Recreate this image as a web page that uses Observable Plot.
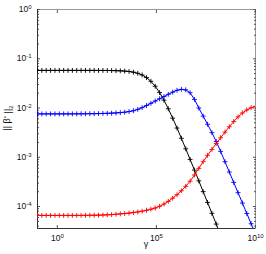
<!DOCTYPE html>
<html><head><meta charset="utf-8">
<script src="https://cdn.jsdelivr.net/npm/d3@7"></script>
<script src="https://cdn.jsdelivr.net/npm/@observablehq/plot@0.6"></script>
<style>
html,body{margin:0;padding:0;background:#fff;}
#chart svg{display:block;}
</style></head><body><div id="chart"></div>
<script>
// log10(gamma) grid of the sampled points
const logGamma = [-1.00,-0.78,-0.56,-0.34,-0.12,0.10,0.32,0.54,0.76,0.98,1.20,1.42,1.64,1.86,2.08,2.30,2.52,2.74,2.96,3.18,3.40,3.62,3.84,4.06,4.28,4.50,4.72,4.94,5.16,5.38,5.60,5.82,6.04,6.26,6.48,6.70,6.92,7.14,7.36,7.58,7.80,8.02,8.24,8.46,8.68,8.90,9.12,9.34,9.56,9.78,10.00];

const normBlack = [0.0580,0.0580,0.0580,0.0580,0.0580,0.0580,0.0580,0.0580,0.0580,0.0580,0.0580,0.0580,0.0580,0.0580,0.0579,0.0579,0.0578,0.0576,0.0573,0.0569,0.0562,0.0551,0.0534,0.0507,0.0468,0.0415,0.0349,0.0277,0.0206,0.01443,0.00965,0.00622,0.00392,0.00243,0.001487,0.000905,0.000549,0.000332,0.0002004,0.0001209,0.0000729,0.0000440,0.0000265];

const normBlue = [0.00760,0.00760,0.00760,0.00760,0.00760,0.00760,0.00760,0.00760,0.00761,0.00761,0.00762,0.00764,0.00766,0.00767,0.00771,0.00775,0.00780,0.00787,0.00796,0.00807,0.00822,0.00847,0.00881,0.00938,0.01019,0.01122,0.01245,0.01387,0.01542,0.01706,0.01897,0.02099,0.02291,0.02388,0.02334,0.02042,0.01496,0.01000,0.00684,0.00468,0.00316,0.00209,0.00132,0.000813,0.000501,0.000309,0.000191,0.0001175,0.0000724,0.0000447,0.0000275];

const normRed = [6.60e-5,6.60e-5,6.60e-5,6.60e-5,6.60e-5,6.60e-5,6.60e-5,6.60e-5,6.60e-5,6.60e-5,6.61e-5,6.62e-5,6.64e-5,6.66e-5,6.68e-5,6.73e-5,6.79e-5,6.87e-5,6.97e-5,7.08e-5,7.21e-5,7.36e-5,7.55e-5,7.76e-5,8.04e-5,8.38e-5,8.81e-5,9.33e-5,1.012e-4,1.122e-4,1.274e-4,1.479e-4,1.738e-4,2.089e-4,2.570e-4,3.273e-4,4.365e-4,5.957e-4,8.128e-4,1.0965e-3,1.445e-3,1.906e-3,2.483e-3,3.236e-3,4.169e-3,5.309e-3,6.607e-3,7.943e-3,9.120e-3,1.0116e-2,1.0839e-2];

const seriesNames = ["black", "blue", "red"];
const seriesColors = ["#000000", "#0000ff", "#ff0000"];
const yTickExponents = [0, -1, -2, -3, -4];
const xTickExponents = [0, 5, 10];
const xDomain = [1e-1, 1e10];
const yDomain = [3.58e-5, 1];
const xLabelText = "γ";

const seriesValues = [normBlack, normBlue, normRed];
const rows = [];
seriesNames.forEach((name, s) => {
  seriesValues[s].forEach((v, i) => rows.push({series: name, gamma: Math.pow(10, logGamma[i]), value: v}));
});

const yMajor = yTickExponents.map(e => Math.pow(10, e));
const xMajor = xTickExponents.map(e => Math.pow(10, e));
const yMinor = [];
for (let k = -5; k <= -1; k++) for (let m = 2; m <= 9; m++) {
  const v = m * Math.pow(10, k);
  if (v >= yDomain[0] && v <= yDomain[1]) yMinor.push(v);
}
const fmtPow = d => "10^" + Math.round(Math.log10(d));
const blank = () => "";
const tickColor = "#555";

const plot = Plot.plot({
  width: 266, height: 254,
  marginLeft: 37, marginRight: 11, marginTop: 9, marginBottom: 26,
  style: {fontFamily: "'Liberation Sans', Arial, sans-serif", fontSize: "8.5px", color: "#111", background: "#fff"},
  x: {type: "log", domain: xDomain, label: null},
  y: {type: "log", domain: yDomain, label: null},
  color: {domain: seriesNames, range: seriesColors},
  marks: [
    Plot.frame({stroke: "#999"}),
    Plot.axisY(yMajor, {anchor: "left", tickSize: 0, tickPadding: 6, tickFormat: fmtPow, label: null}),
    Plot.axisX(xMajor, {anchor: "bottom", tickSize: 0, tickPadding: 6, tickFormat: fmtPow, label: null}),
    Plot.axisY(yMajor, {anchor: "left", tickSize: -3, tickFormat: blank, label: null, stroke: tickColor}),
    Plot.axisY(yMinor, {anchor: "left", tickSize: -2, tickFormat: blank, label: null, stroke: tickColor}),
    Plot.axisY(yMajor, {anchor: "right", tickSize: -3, tickFormat: blank, label: null, stroke: tickColor}),
    Plot.axisY(yMinor, {anchor: "right", tickSize: -2, tickFormat: blank, label: null, stroke: tickColor}),
    Plot.axisX(xMajor, {anchor: "bottom", tickSize: -3, tickFormat: blank, label: null, stroke: tickColor}),
    Plot.axisX(xMajor, {anchor: "top", tickSize: -3, tickFormat: blank, label: null, stroke: tickColor}),
    Plot.ruleX([xDomain[0]], {stroke: "#333"}),
    Plot.ruleY([yDomain[0]], {stroke: "#333"}),
    Plot.line(rows, {x: "gamma", y: "value", z: "series", stroke: "series", strokeWidth: 1, clip: true}),
    Plot.dot(rows, {x: "gamma", y: "value", stroke: "series", symbol: "plus", r: 1.7, strokeWidth: 0.9, clip: true})
  ]
});

const svg = d3.select(plot);
svg.selectAll("text").each(function() {
  const t = this.textContent;
  if (t.includes("^")) {
    const [base, exp] = t.split("^");
    const sel = d3.select(this);
    sel.text(base);
    sel.append("tspan").attr("dy", "-0.5em").attr("font-size", "6px").text(exp);
  }
});
// x label
svg.append("text")
  .attr("x", 146).attr("y", 247)
  .attr("text-anchor", "middle")
  .attr("font-size", "9px")
  .attr("fill", "#111")
  .text(xLabelText);
// y label
const yl = svg.append("text")
  .attr("transform", "translate(10,118) rotate(-90)")
  .attr("text-anchor", "middle")
  .attr("font-size", "9px")
  .attr("fill", "#111");
yl.append("tspan").text("|| β");
yl.append("tspan").attr("dy", "-0.4em").attr("font-size", "6px").text("*");
yl.append("tspan").attr("dy", "0.4em").text(" ||");
yl.append("tspan").attr("dy", "0.35em").attr("font-size", "6px").text("2");

document.getElementById("chart").appendChild(plot);
</script>
</body></html>
